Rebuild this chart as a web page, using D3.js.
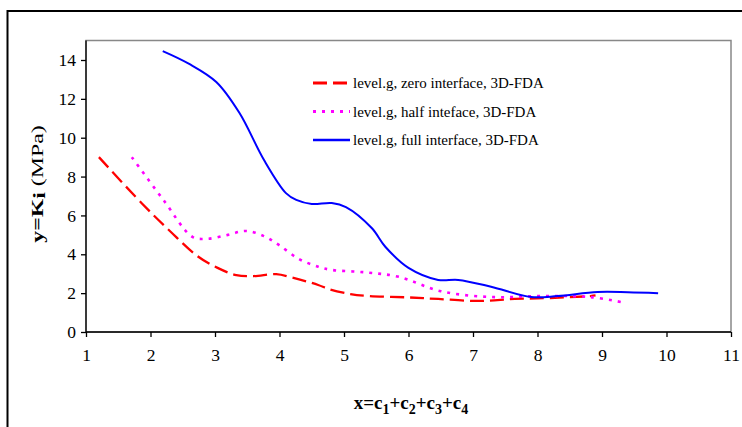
<!DOCTYPE html>
<html><head><meta charset="utf-8">
<script src="https://cdn.jsdelivr.net/npm/d3@7"></script>
<style>body{margin:0;background:#fff}svg{display:block}</style>
</head><body><svg id="c" width="742" height="427"></svg>
<script>
const xTicks = [1,2,3,4,5,6,7,8,9,10,11];
const yTicks = [0,2,4,6,8,10,12,14];
const seriesNames = ["level.g, zero interface, 3D-FDA","level.g, half inteface, 3D-FDA","level.g, full interface, 3D-FDA"];
const zeroX = [1.2,1.86,2.3,2.73,3.04,3.33,3.6,3.95,4.2,4.6,4.77,5.1,5.38,6.0,6.46,7.08,7.65,8.2,8.82,8.9];
const zeroY = [9.0,6.64,5.2,3.9,3.3,2.93,2.88,2.98,2.8,2.42,2.2,1.95,1.85,1.78,1.7,1.6,1.7,1.75,1.85,1.88];
const halfX = [1.71,2.2,2.65,2.88,3.2,3.48,3.75,3.99,4.3,4.6,4.8,5.33,5.85,6.5,7.28,8.05,8.82,9.36];
const halfY = [9.0,6.8,4.9,4.8,5.0,5.2,4.95,4.48,3.76,3.36,3.2,3.07,2.84,2.1,1.8,1.85,1.8,1.5];
const fullX = [2.19,2.6,3.02,3.38,3.76,4.1,4.26,4.5,4.81,5.03,5.43,5.64,6.0,6.46,6.77,7.28,7.9,8.31,8.93,9.4,9.87];
const fullY = [14.46,13.8,12.87,11.27,8.85,7.15,6.8,6.59,6.64,6.43,5.35,4.39,3.3,2.68,2.68,2.33,1.8,1.85,2.06,2.05,2.0];

const svg = d3.select("#c");
const L=86,R=731,T=40.5,B=332;
const x = d3.scaleLinear().domain([1,11]).range([L,R]);
const y = d3.scaleLinear().domain([0,15]).range([B,B-(B-60)*15/14]);
const font = "'Liberation Serif','Times New Roman',serif";

svg.append("rect").attr("x",7.5).attr("y",11).attr("width",760).attr("height",440)
  .attr("fill","#fff").attr("stroke","#000").attr("stroke-width",2);
svg.append("rect").attr("x",L).attr("y",T).attr("width",R-L).attr("height",B-T)
  .attr("fill","none").attr("stroke","#888").attr("stroke-width",1.5);

const xa = svg.append("g").attr("transform",`translate(0,${B})`)
  .call(d3.axisBottom(x).tickValues(xTicks).tickSize(5).tickPadding(12).tickSizeOuter(0));
const ya = svg.append("g").attr("transform",`translate(${L},0)`)
  .call(d3.axisLeft(y).tickValues(yTicks).tickSize(5).tickPadding(5).tickSizeOuter(0));
[xa,ya].forEach(a=>{
  a.selectAll("path,line").attr("stroke","#000").attr("stroke-width",1.3);
  a.selectAll("text").attr("font-family",font).attr("font-size",17.5).attr("fill","#000");
});
xa.select(".domain").attr("d",`M${L},0H${R}`);
ya.select(".domain").attr("d",`M0,${B}V${T}`);

const series = [
  {xs:zeroX, ys:zeroY, color:"#ff0000", dash:"14,6", w:2.3},
  {xs:halfX, ys:halfY, color:"#ff00ff", dash:"3,6", w:2.6},
  {xs:fullX, ys:fullY, color:"#0000ff", dash:null, w:2}
];
const line = d3.line().x(d=>x(d[0])).y(d=>y(d[1])).curve(d3.curveCatmullRom.alpha(0.5));
series.forEach(s=>{
  const pts = s.xs.map((v,i)=>[v,s.ys[i]]);
  svg.append("path").attr("d",line(pts)).attr("fill","none")
    .attr("stroke",s.color).attr("stroke-width",s.w)
    .attr("stroke-dasharray",s.dash);
});

const lg = svg.append("g");
series.forEach((s,i)=>{
  const yy = 83 + i*28.5;
  lg.append("line").attr("x1",313).attr("x2",350).attr("y1",yy).attr("y2",yy)
    .attr("stroke",s.color).attr("stroke-width",s.w+0.6).attr("stroke-dasharray",s.dash);
  lg.append("text").attr("x",353).attr("y",yy+5).attr("font-family",font)
    .attr("font-size",15).attr("fill","#000").text(seriesNames[i]);
});

const xt = svg.append("text").attr("x",411).attr("y",409).attr("text-anchor","middle")
  .attr("font-family",font).attr("font-size",19).attr("font-weight","bold");
xt.append("tspan").text("x=c");
[["1","+c"],["2","+c"],["3","+c"],["4",""]].forEach(p=>{
  xt.append("tspan").attr("dy",5).attr("font-size",14).text(p[0]);
  if(p[1]) xt.append("tspan").attr("dy",-5).text(p[1]);
});

const yt = svg.append("text").attr("transform","translate(43,184) rotate(-90) scale(1.4,1)")
  .attr("text-anchor","middle").attr("font-family",font).attr("font-size",17);
yt.append("tspan").attr("font-weight","bold").text("y=K");
yt.append("tspan").attr("font-weight","bold").attr("dy",2).text("i");
yt.append("tspan").attr("dy",-2).text(" (MPa)");
</script></body></html>
